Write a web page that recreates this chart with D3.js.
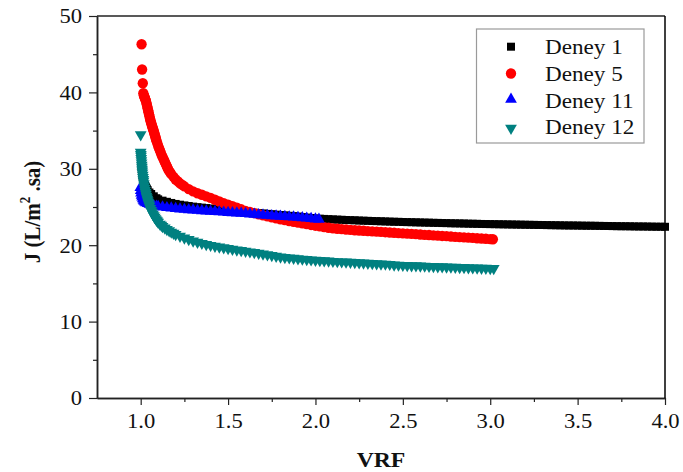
<!DOCTYPE html>
<html>
<head>
<meta charset="utf-8">
<script src="https://cdn.jsdelivr.net/npm/d3@7"></script>
<style>
  html, body { margin: 0; padding: 0; background: #fff; }
  svg { display: block; }
  svg text { font-family: "Liberation Serif", "DejaVu Serif", "Times New Roman", serif; }
</style>
</head>
<body>
<svg id="chart" width="683" height="472"></svg>
<script>
// ---------------- DATA (VRF, J) ----------------
const seriesNames = ["Deney 1", "Deney 5", "Deney 11", "Deney 12"];

const deney1 = [
[1.000,32.0],[1.002,31.3],[1.003,30.8],[1.005,30.3],[1.006,29.9],[1.008,29.5],[1.010,29.1],[1.013,28.8],[1.015,28.5],[1.020,28.1],[1.025,27.85],[1.030,27.6],[1.035,27.4],[1.040,27.2],
[1.050,26.9],[1.060,26.7],[1.075,26.4],[1.090,26.15],[1.100,26.0],[1.125,25.83],[1.150,25.68],[1.175,25.53],
[1.200,25.4],[1.225,25.3],[1.250,25.21],[1.275,25.13],[1.300,25.05],[1.325,24.98],[1.350,24.92],[1.375,24.86],
[1.400,24.8],[1.425,24.75],[1.450,24.7],[1.475,24.65],[1.500,24.6],[1.525,24.54],[1.550,24.48],[1.575,24.41],
[1.600,24.35],[1.625,24.3],[1.650,24.25],[1.675,24.2],[1.700,24.15],[1.725,24.1],[1.750,24.05],[1.775,24.0],
[1.800,23.95],[1.825,23.9],[1.850,23.85],[1.875,23.8],[1.900,23.75],[1.925,23.68],[1.950,23.62],[1.975,23.56],
[2.000,23.5],[2.025,23.47],[2.050,23.44],[2.075,23.41],[2.100,23.38],[2.125,23.35],[2.150,23.33],[2.175,23.3],
[2.200,23.28],[2.225,23.26],[2.250,23.23],[2.275,23.21],[2.300,23.19],[2.325,23.17],[2.350,23.15],[2.375,23.13],
[2.400,23.11],[2.425,23.09],[2.450,23.07],[2.475,23.06],[2.500,23.04],[2.525,23.02],[2.550,23.01],[2.575,22.99],
[2.600,22.98],[2.625,22.96],[2.650,22.95],[2.675,22.93],[2.700,22.92],[2.725,22.9],[2.750,22.89],[2.775,22.87],
[2.800,22.86],[2.825,22.85],[2.850,22.84],[2.875,22.82],[2.900,22.81],[2.925,22.8],[2.950,22.78],[2.975,22.77],
[3.000,22.76],[3.025,22.75],[3.050,22.74],[3.075,22.73],[3.100,22.72],[3.125,22.71],[3.150,22.7],[3.175,22.69],
[3.200,22.68],[3.225,22.67],[3.250,22.66],[3.275,22.65],[3.300,22.64],[3.325,22.63],[3.350,22.62],[3.375,22.61],
[3.400,22.6],[3.425,22.59],[3.450,22.58],[3.475,22.58],[3.500,22.57],[3.525,22.56],[3.550,22.55],[3.575,22.55],
[3.600,22.54],[3.625,22.53],[3.650,22.52],[3.675,22.51],[3.700,22.5],[3.725,22.49],[3.750,22.48],[3.775,22.48],
[3.800,22.47],[3.825,22.46],[3.850,22.45],[3.875,22.45],[3.900,22.44],[3.925,22.43],[3.950,22.42],[3.975,22.42],
[4.000,22.41]
];

const deney5 = [
[1.005,46.3],[1.008,43.0],[1.012,41.2],[1.015,39.9],[1.018,39.6],[1.020,39.5],[1.023,39.3],[1.025,39.2],[1.028,39.0],[1.030,38.9],[1.033,38.6],[1.035,38.4],
[1.038,38.1],[1.040,37.9],[1.043,37.6],[1.045,37.4],[1.048,37.1],[1.050,36.9],[1.053,36.6],[1.055,36.4],[1.058,36.15],[1.060,36.0],[1.063,35.75],[1.065,35.6],[1.068,35.4],[1.070,35.25],[1.073,35.05],[1.075,34.9],
[1.078,34.65],[1.080,34.5],[1.083,34.25],[1.085,34.1],[1.088,33.85],[1.090,33.7],[1.095,33.35],[1.100,33.0],[1.105,32.7],[1.110,32.4],[1.115,32.1],[1.120,31.8],[1.125,31.55],[1.130,31.3],[1.135,31.05],[1.140,30.8],
[1.145,30.55],[1.150,30.3],[1.155,30.05],[1.160,29.8],[1.168,29.55],[1.175,29.3],[1.188,28.95],[1.200,28.6],[1.213,28.35],[1.225,28.1],[1.238,27.9],[1.250,27.7],[1.275,27.35],[1.300,27.05],
[1.325,26.8],[1.350,26.6],[1.375,26.4],[1.400,26.2],[1.425,25.95],[1.450,25.72],[1.475,25.5],[1.500,25.3],
[1.525,25.1],[1.550,24.9],[1.575,24.7],[1.600,24.5],[1.625,24.35],[1.650,24.2],[1.675,24.05],[1.700,23.9],
[1.725,23.77],[1.750,23.65],[1.775,23.52],[1.800,23.4],[1.825,23.28],[1.850,23.17],[1.875,23.06],[1.900,22.95],
[1.925,22.85],[1.950,22.75],[1.975,22.65],[2.000,22.55],[2.025,22.46],[2.050,22.37],[2.075,22.28],[2.100,22.2],
[2.125,22.15],[2.150,22.1],[2.175,22.05],[2.200,22.0],[2.225,21.96],[2.250,21.92],[2.275,21.89],[2.300,21.85],
[2.325,21.81],[2.350,21.78],[2.375,21.74],[2.400,21.7],[2.425,21.66],[2.450,21.63],[2.475,21.59],[2.500,21.55],
[2.525,21.51],[2.550,21.48],[2.575,21.44],[2.600,21.4],[2.625,21.36],[2.650,21.33],[2.675,21.29],[2.700,21.25],
[2.725,21.21],[2.750,21.18],[2.775,21.14],[2.800,21.1],[2.825,21.06],[2.850,21.03],[2.875,20.99],[2.900,20.95],
[2.925,20.91],[2.950,20.88],[2.975,20.84],[3.000,20.8],[3.015,20.78]
];

const deney11 = [
[0.998,27.4],[1.000,27.0],[1.002,26.7],[1.005,26.4],[1.008,26.15],[1.012,25.95],[1.016,25.75],[1.020,25.6],[1.025,25.5],[1.030,25.4],
[1.040,25.3],[1.050,25.2],[1.060,25.12],[1.075,25.03],[1.090,24.97],[1.100,24.93],[1.125,24.85],[1.150,24.78],
[1.175,24.72],[1.200,24.66],[1.225,24.6],[1.250,24.55],[1.275,24.5],[1.300,24.46],[1.325,24.42],[1.350,24.38],
[1.375,24.34],[1.400,24.3],[1.425,24.26],[1.450,24.22],[1.475,24.19],[1.500,24.15],[1.525,24.11],[1.550,24.08],
[1.575,24.04],[1.600,24.0],[1.625,23.95],[1.650,23.9],[1.675,23.85],[1.700,23.8],[1.725,23.76],[1.750,23.72],
[1.775,23.69],[1.800,23.65],[1.825,23.61],[1.850,23.57],[1.875,23.54],[1.900,23.5],[1.925,23.45],[1.950,23.4],
[1.975,23.35],[2.000,23.3],[2.020,23.26]
];

const deney12 = [
[1.000,34.6],[1.000,32.3],[1.001,32.0],[1.002,31.8],[1.003,31.5],[1.004,31.2],[1.005,30.9],[1.006,30.6],[1.007,30.35],[1.008,30.1],[1.009,29.85],[1.010,29.6],[1.012,29.3],[1.013,29.0],[1.015,28.75],
[1.016,28.5],[1.018,28.2],[1.020,27.9],[1.023,27.6],[1.025,27.3],[1.028,27.05],[1.030,26.8],[1.033,26.55],[1.035,26.35],[1.038,26.15],[1.040,25.95],[1.043,25.75],[1.045,25.6],[1.048,25.4],[1.050,25.25],
[1.055,24.95],[1.060,24.7],[1.065,24.45],[1.070,24.2],[1.075,24.0],[1.080,23.8],[1.085,23.62],[1.090,23.45],[1.095,23.3],[1.100,23.15],[1.110,22.9],[1.118,22.75],[1.125,22.6],[1.138,22.4],[1.150,22.2],
[1.163,22.02],[1.175,21.85],[1.188,21.7],[1.200,21.55],[1.225,21.3],[1.250,21.08],[1.275,20.88],[1.300,20.7],[1.325,20.53],[1.350,20.38],
[1.375,20.24],[1.400,20.12],[1.425,20.0],[1.450,19.9],[1.475,19.8],[1.500,19.7],[1.525,19.61],[1.550,19.52],
[1.575,19.44],[1.600,19.36],[1.625,19.27],[1.650,19.18],[1.675,19.09],[1.700,19.0],[1.725,18.9],[1.750,18.8],
[1.775,18.7],[1.800,18.6],[1.825,18.54],[1.850,18.48],[1.875,18.42],[1.900,18.37],[1.925,18.32],[1.950,18.27],
[1.975,18.22],[2.000,18.18],[2.025,18.14],[2.050,18.1],[2.075,18.06],[2.100,18.02],[2.125,17.99],[2.150,17.96],
[2.175,17.93],[2.200,17.9],[2.225,17.87],[2.250,17.84],[2.275,17.81],[2.300,17.78],[2.325,17.75],[2.350,17.72],
[2.375,17.69],[2.400,17.66],[2.425,17.63],[2.450,17.56],[2.475,17.53],[2.500,17.5],[2.525,17.48],[2.550,17.46],
[2.575,17.44],[2.600,17.42],[2.625,17.4],[2.650,17.37],[2.675,17.35],[2.700,17.33],[2.725,17.31],[2.750,17.29],
[2.775,17.27],[2.800,17.25],[2.825,17.23],[2.850,17.21],[2.875,17.19],[2.900,17.17],[2.925,17.15],[2.950,17.13],
[2.975,17.12],[3.000,17.1],[3.020,17.08]
];

const xMajorTicks = [1.0, 1.5, 2.0, 2.5, 3.0, 3.5, 4.0];
const xMinorTicks = [1.25, 1.75, 2.25, 2.75, 3.25, 3.75];
const yMajorTicks = [0, 10, 20, 30, 40, 50];
const yMinorTicks = [5, 15, 25, 35, 45];
const xTitle = "VRF";

// ---------------- STYLE ----------------
const styles = [
  { color: "#000000", shape: "square" },
  { color: "#ff0000", shape: "circle" },
  { color: "#0000ff", shape: "up" },
  { color: "#008080", shape: "down" }
];
const allSeries = [deney1, deney5, deney11, deney12];

const svg = d3.select("#chart");
const W = 683, H = 472;
const m = { left: 97, right: 18, top: 16, bottom: 74 };
const x = d3.scaleLinear().domain([0.75, 4.0]).range([m.left, W - m.right]);
const y = d3.scaleLinear().domain([0, 50]).range([H - m.bottom, m.top]);

const SX = 1.13; // horizontal stretch of the original text
const serif = "Liberation Serif, DejaVu Serif, serif";

function symbolPath(shape) {
  if (shape === "square") return d3.symbol(d3.symbolSquare, 64)();
  if (shape === "circle") return d3.symbol(d3.symbolCircle, 84)();
  return d3.symbol(d3.symbolTriangle, 60)();
}
function symTransform(shape, px, py) {
  if (shape === "down") return `translate(${px},${py + 1}) rotate(180)`;
  if (shape === "up") return `translate(${px},${py - 1})`;
  return `translate(${px},${py})`;
}

// ---------------- MARKS ----------------
const plot = svg.append("g");
allSeries.forEach((data, i) => {
  const st = styles[i];
  const p = symbolPath(st.shape);
  plot.append("g").selectAll("path").data(data).join("path")
    .attr("d", p)
    .attr("transform", d => symTransform(st.shape, x(d[0]), y(d[1])))
    .attr("fill", st.color);
});

// ---------------- AXES ----------------
const axisColor = "#222";
const gx = svg.append("g").attr("transform", `translate(0,${y(0)})`)
  .call(d3.axisBottom(x).tickValues(xMajorTicks).tickSize(7).tickSizeOuter(0).tickFormat(d3.format(".1f")));
const gxm = svg.append("g").attr("transform", `translate(0,${y(0)})`)
  .call(d3.axisBottom(x).tickValues(xMinorTicks).tickSize(4).tickSizeOuter(0).tickFormat(""));
const gy = svg.append("g").attr("transform", `translate(${x(0.75)},0)`)
  .call(d3.axisLeft(y).tickValues(yMajorTicks).tickSize(8).tickSizeOuter(0).tickFormat(d3.format("d")));
const gym = svg.append("g").attr("transform", `translate(${x(0.75)},0)`)
  .call(d3.axisLeft(y).tickValues(yMinorTicks).tickSize(4).tickSizeOuter(0).tickFormat(""));

[gx, gxm, gy, gym].forEach(g => {
  g.attr("font-family", null).attr("font-size", null);
  g.select(".domain").attr("stroke", axisColor).attr("stroke-width", 1.5);
  g.selectAll(".tick line").attr("stroke", axisColor).attr("stroke-width", 1.2);
});
gx.selectAll(".tick text")
  .style("font-family", serif).style("font-size", "20px").attr("fill", "#111")
  .attr("y", 0).attr("dy", 0)
  .attr("transform", `translate(0,30) scale(${SX},1)`);
gy.selectAll(".tick text")
  .style("font-family", serif).style("font-size", "20px").attr("fill", "#111")
  .attr("x", 0).attr("dy", "0.34em")
  .attr("transform", `translate(-15,0) scale(${SX},1)`);

// top and right frame
svg.append("line").attr("x1", x(0.75)).attr("x2", x(4.0)).attr("y1", y(50)).attr("y2", y(50))
  .attr("stroke", axisColor).attr("stroke-width", 1.5);
svg.append("line").attr("x1", x(4.0)).attr("x2", x(4.0)).attr("y1", y(50)).attr("y2", y(0))
  .attr("stroke", "#000").attr("stroke-width", 1.5);

// axis titles
svg.append("text")
  .attr("transform", `translate(${(x(0.75) + x(4.0)) / 2},467) scale(${SX},1)`)
  .attr("text-anchor", "middle")
  .style("font-family", serif).style("font-weight", "bold").style("font-size", "21px")
  .attr("fill", "#111").text(xTitle);

const yt = svg.append("text")
  .attr("transform", `translate(40,${(y(0) + y(50)) / 2 + 5}) rotate(-90) scale(1,${SX})`)
  .attr("text-anchor", "middle")
  .style("font-family", serif).style("font-weight", "bold").style("font-size", "21px")
  .attr("fill", "#111");
yt.append("tspan").text("J (L/m");
yt.append("tspan").style("font-size", "13px").attr("dy", -9).text("2");
yt.append("tspan").attr("dy", 9).text(" .sa)");

// ---------------- LEGEND ----------------
const lg = svg.append("g");
lg.append("rect").attr("x", 476.5).attr("y", 29).attr("width", 167.5).attr("height", 114)
  .attr("fill", "#fff").attr("stroke", "#9a9a9a").attr("stroke-width", 1.2);
seriesNames.forEach((name, i) => {
  const cy = 46.7 + i * 26.8;
  const st = styles[i];
  lg.append("path").attr("d", symbolPath(st.shape))
    .attr("transform", symTransform(st.shape, 511, cy)).attr("fill", st.color);
  lg.append("text")
    .attr("transform", `translate(545,${cy + 7.3}) scale(${SX},1)`)
    .style("font-family", serif).style("font-size", "20.5px").attr("fill", "#111")
    .text(name);
});
</script>
</body>
</html>
